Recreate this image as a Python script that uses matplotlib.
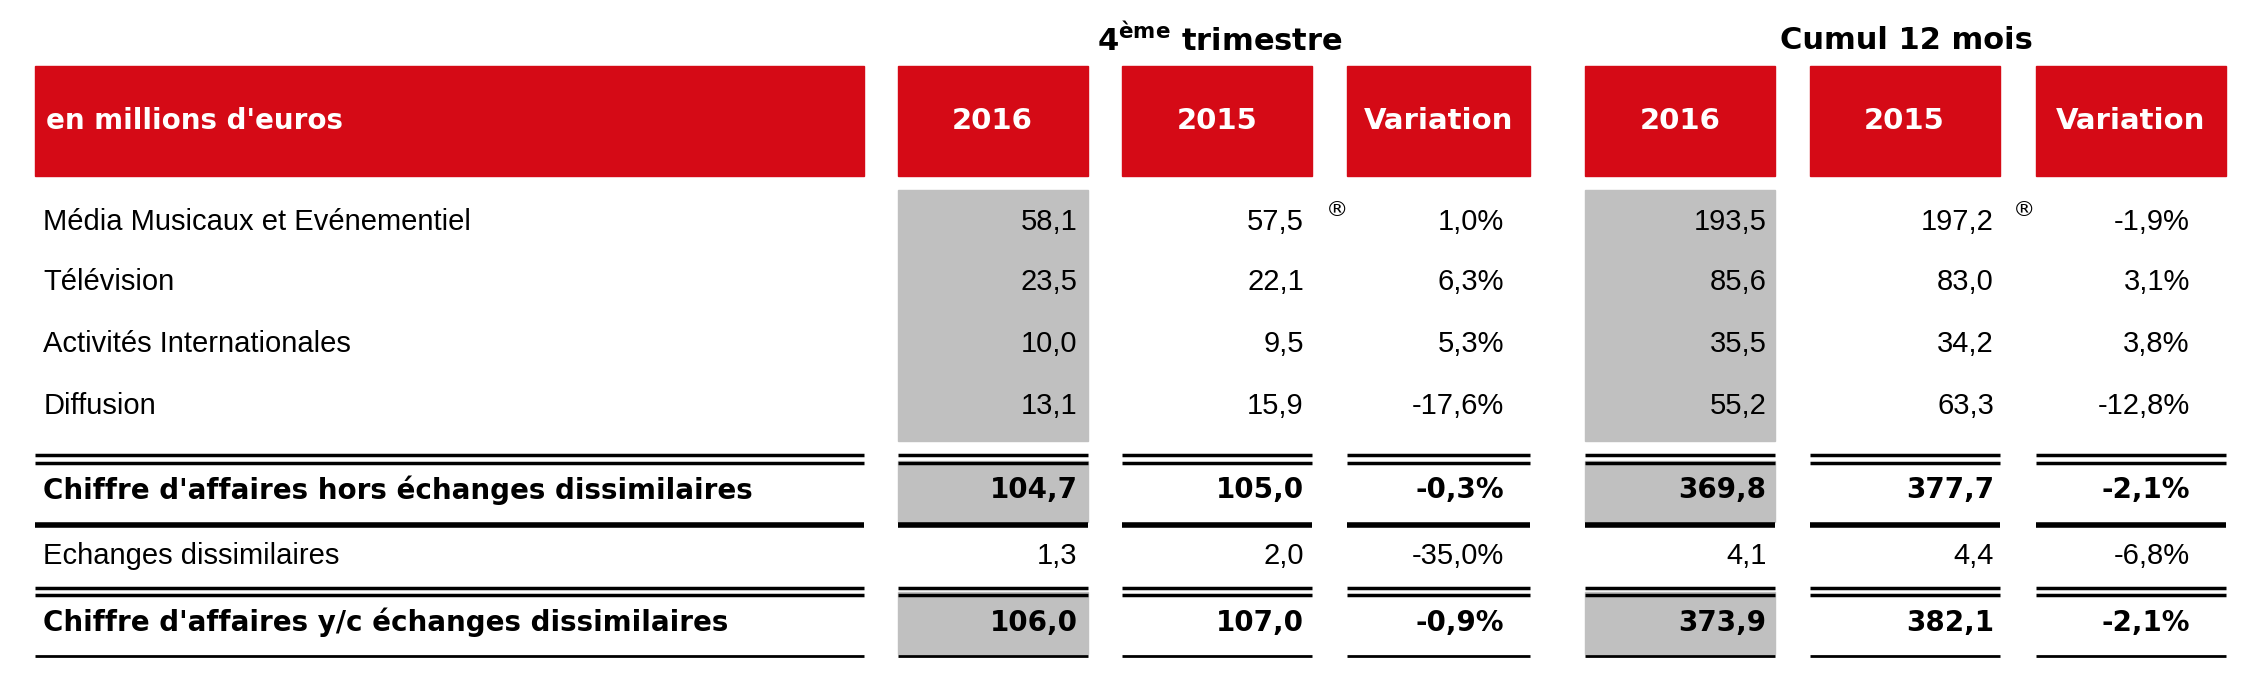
import matplotlib.pyplot as plt
from matplotlib.patches import Rectangle

plt.rcParams['font.family'] = 'Liberation Sans'

# table content
row_labels = ["Média Musicaux et Evénementiel", "Télévision", "Activités Internationales", "Diffusion",
              "Chiffre d'affaires hors échanges dissimilaires", "Echanges dissimilaires",
              "Chiffre d'affaires y/c échanges dissimilaires"]
q4_2016 = ["58,1", "23,5", "10,0", "13,1", "104,7", "1,3", "106,0"]
q4_2015 = ["57,5", "22,1", "9,5", "15,9", "105,0", "2,0", "107,0"]
q4_var = ["1,0%", "6,3%", "5,3%", "-17,6%", "-0,3%", "-35,0%", "-0,9%"]
y_2016 = ["193,5", "85,6", "35,5", "55,2", "369,8", "4,1", "373,9"]
y_2015 = ["197,2", "83,0", "34,2", "63,3", "377,7", "4,4", "382,1"]
y_var = ["-1,9%", "3,1%", "3,8%", "-12,8%", "-2,1%", "-6,8%", "-2,1%"]
bold_rows = [4, 6]
col_headers = ["2016", "2015", "Variation", "2016", "2015", "Variation"]

W, H = 1568, 483
RED = '#d50a16'
GRAY = '#c0c0c0'
BOLD = dict(fontfamily='DejaVu Sans', fontweight='bold')

fig = plt.figure(figsize=(22.59, 6.96), dpi=100)
ax = fig.add_axes([0, 0, 1, 1])
ax.set_xlim(0, W)
ax.set_ylim(H, 0)
ax.axis('off')

label_span = (24, 600)
cols = [(623, 755), (779, 911), (935, 1062), (1100, 1232), (1256, 1388), (1413, 1545)]
right_x = [748, 905, 1044, 1226, 1384, 1520]
row_y = [154, 196, 239, 282, 340, 386, 432]
columns = [q4_2016, q4_2015, q4_var, y_2016, y_2015, y_var]

# group titles
ax.text(847, 28, "4$^{\\mathbf{ème}}$ trimestre", ha='center', va='center', fontsize=22, **BOLD)
ax.text(1323, 28, "Cumul 12 mois", ha='center', va='center', fontsize=22, **BOLD)

# header boxes
ax.add_patch(Rectangle((label_span[0], 46), label_span[1] - label_span[0], 76, color=RED))
ax.text(32, 84, "en millions d'euros", color='white', fontsize=20, va='center', **BOLD)
for (x0, x1), h in zip(cols, col_headers):
    ax.add_patch(Rectangle((x0, 46), x1 - x0, 76, color=RED))
    ax.text((x0 + x1) / 2, 84, h, color='white', fontsize=21, ha='center', va='center', **BOLD)

# gray shading for the 2016 columns
for ci in (0, 3):
    x0, x1 = cols[ci]
    ax.add_patch(Rectangle((x0, 132), x1 - x0, 174, color=GRAY, zorder=0))
    ax.add_patch(Rectangle((x0, 320), x1 - x0, 42, color=GRAY, zorder=0))
    ax.add_patch(Rectangle((x0, 411), x1 - x0, 43, color=GRAY, zorder=0))

# rules
spans = [label_span] + cols
def rule(y, lw):
    for x0, x1 in spans:
        ax.plot([x0, x1], [y, y], color='black', lw=lw, solid_capstyle='butt')

rule(316, 2.5); rule(321, 2.5)
rule(364, 4)
rule(408, 2.5); rule(413, 2.5)
rule(455, 2)

# rows
for r, y in enumerate(row_y):
    if r in bold_rows:
        kw = dict(fontsize=20, **BOLD)
    else:
        kw = dict(fontsize=21)
    ax.text(30, y, row_labels[r], va='center', **kw)
    for c in range(6):
        ax.text(right_x[c], y, columns[c][r], va='center', ha='right', **kw)

# restated markers
ax.text(928, 146, "®", fontsize=16, ha='center', va='center', fontfamily='DejaVu Sans')
ax.text(1405, 146, "®", fontsize=16, ha='center', va='center', fontfamily='DejaVu Sans')

fig.savefig('out.png', dpi=100)
